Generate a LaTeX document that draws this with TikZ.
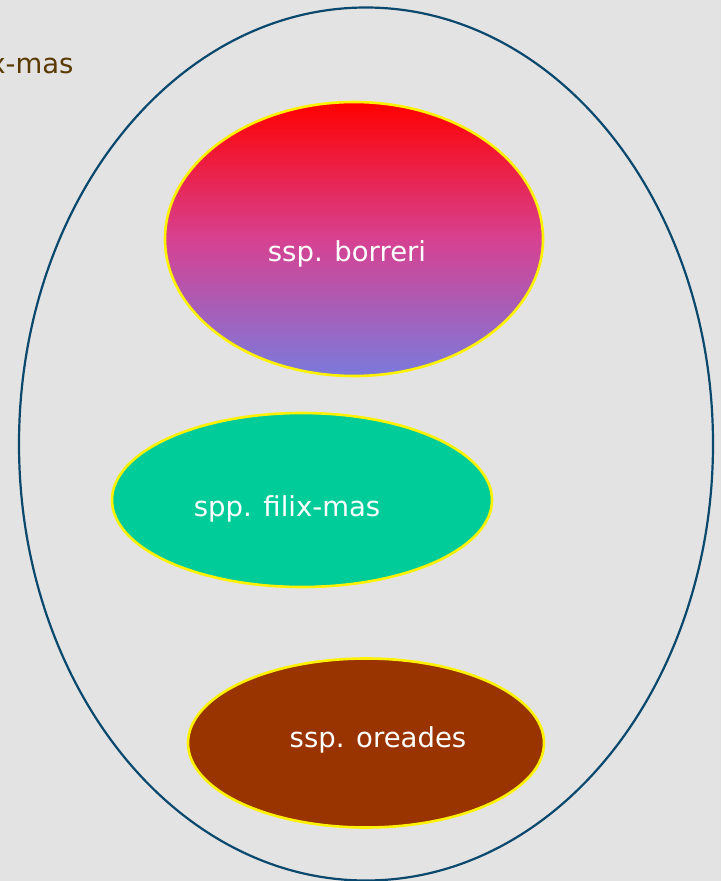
\documentclass[tikz,border=0pt]{standalone}
\usepackage{fontspec}
\setsansfont{DejaVu Sans}
\definecolor{bggray}{RGB}{227,227,227}
\definecolor{genusblue}{RGB}{10,72,110}
\definecolor{sspgreen}{RGB}{0,204,153}
\definecolor{sspbrown}{RGB}{153,51,0}
\definecolor{captionbrown}{RGB}{90,58,0}
\definecolor{midpink}{RGB}{215,65,145}
\definecolor{lowblue}{RGB}{122,122,220}
\tikzset{every picture/.style={/utils/exec={\sffamily}}}
\usetikzlibrary{positioning}
\usetikzlibrary{shapes.geometric}

\begin{document}
\begin{tikzpicture}[x=1pt, y=-1pt,
    taxon/.style={ellipse, inner sep=0pt, draw=yellow, line width=2.6pt},
    taxlabel/.style={text=white, font=\fontsize{27.5}{32}\selectfont}]

    \fill[bggray] (0,0) rectangle (721,881);
    \useasboundingbox (0,0) rectangle (721,881);

    \node[ellipse, draw=genusblue, line width=2.2pt, inner sep=0pt,
          minimum width=694pt, minimum height=873pt] (genus) at (366,444) {};

    \node[anchor=base east, text=captionbrown, font=\fontsize{27.5}{32}\selectfont] (caption) at (77,73) {x-mas};

    \begin{scope}[every node/.style={taxon}]
      \node[top color=red, bottom color=lowblue, middle color=midpink,
            minimum width=378pt, minimum height=274pt] (borreri) at (354,239) {};
      \node[fill=sspgreen, minimum width=380pt, minimum height=174pt] (filixmas) at (302,500) {};
      \node[fill=sspbrown, minimum width=356pt, minimum height=169pt] (oreades) at (366,743) {};
    \end{scope}

    \node[taxlabel] at ([xshift=-7pt,yshift=-15pt]borreri.center) {ssp. borreri};
    \node[taxlabel] at ([xshift=-15pt,yshift=-9pt]filixmas.center) {spp. filix-mas};
    \node[taxlabel] at ([xshift=12pt,yshift=3pt]oreades.center) {ssp. oreades};
\end{tikzpicture}
\end{document}
